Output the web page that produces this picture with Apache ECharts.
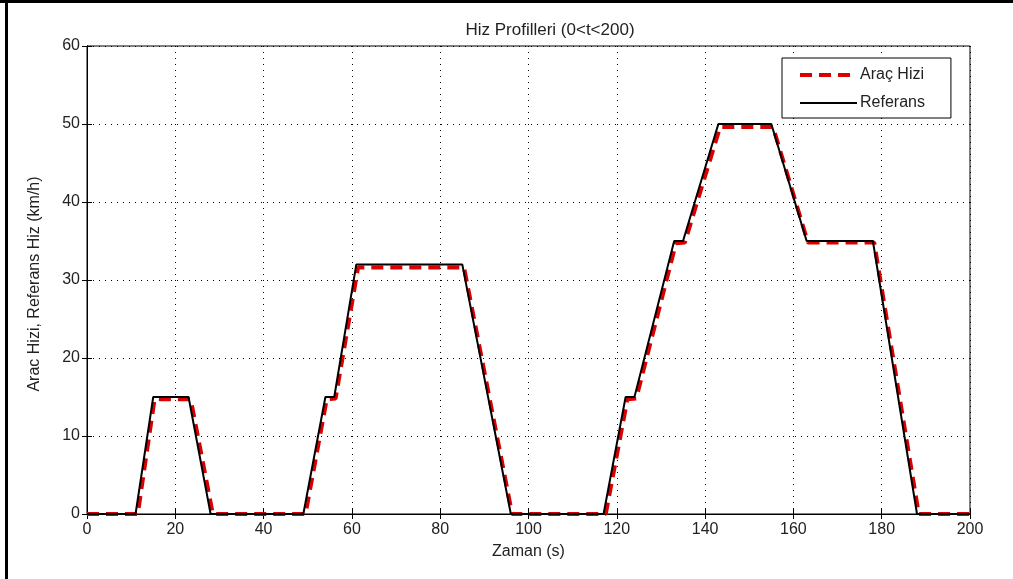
<!DOCTYPE html>
<html>
<head>
<meta charset="utf-8">
<script src="https://cdn.jsdelivr.net/npm/echarts@6/dist/echarts.min.js"></script>
<style>
html,body{margin:0;padding:0;background:#fff;}
#chart{width:1013px;height:579px;}
</style>
</head>
<body>
<div id="chart"></div>
<script>
// Data: [time (s), speed (km/h)]
const aracHizi = [
  [0,0],[11.5,0],[15.3,14.7],[23.5,14.7],[28.5,0],[49.5,0],[54.3,14.7],[56.3,14.8],
  [61.4,31.6],[85.4,31.6],[96.3,0],[117.5,0],[122.4,14.7],[124.4,14.8],[133.4,34.7],
  [135.4,34.8],[143.4,49.6],[155.4,49.6],[163.3,34.8],[178.3,34.8],[188.4,0],[200,0]
];
const referans = [
  [0,0],[11,0],[15,15],[23,15],[28,0],[49,0],[54,15],[56,15],[61,32],[85,32],[96,0],
  [117,0],[122,15],[124,15],[133,35],[135,35],[143,50],[155,50],[163,35],[178,35],
  [188,0],[200,0]
];
const seriesNames = ['Araç Hizi', 'Referans'];
const titleText = 'Hiz Profilleri (0<t<200)';
const xName = 'Zaman (s)';
const yName = 'Arac Hizi, Referans Hiz (km/h)';
const xRange = [0, 200, 20];
const yRange = [0, 60, 10];

const font = 'Liberation Sans, Arial, sans-serif';
const chart = echarts.init(document.getElementById('chart'), null, {renderer: 'canvas'});
const labelStyle = {color: '#222', fontSize: 16, fontFamily: font};
const tickIn = {show: true, inside: true, length: 5, lineStyle: {color: '#000', width: 1}};
const axLine = {show: true, lineStyle: {color: '#000', width: 1}};
const split = {show: true, lineStyle: {color: '#000', width: 1, type: [1, 5]}};
const redStyle = {color: '#d80000', width: 4, type: [12, 7]};
const blackStyle = {color: '#000', width: 2};

chart.setOption({
  backgroundColor: '#fff',
  animation: false,
  title: {
    text: titleText, left: 545, top: 17, textAlign: 'center',
    textStyle: {fontSize: 17, fontWeight: 'normal', color: '#222', fontFamily: font}
  },
  grid: {left: 87, right: 43, top: 46, bottom: 65, show: true, borderColor: '#000', borderWidth: 1, containLabel: false},
  legend: {
    orient: 'vertical', left: 782, top: 58,
    backgroundColor: '#fff', borderColor: '#000', borderWidth: 1,
    padding: [9, 26, 7, 16], itemGap: 12, itemWidth: 57, itemHeight: 14,
    itemStyle: {opacity: 0},
    textStyle: {color: '#222', fontSize: 16, fontFamily: font, padding: [0, 0, 0, -2]},
    data: [
      {name: seriesNames[0], lineStyle: redStyle},
      {name: seriesNames[1], lineStyle: blackStyle}
    ]
  },
  xAxis: [{
    type: 'value', min: xRange[0], max: xRange[1], interval: xRange[2],
    name: xName, nameLocation: 'middle', nameGap: 30,
    nameTextStyle: labelStyle,
    axisLine: axLine, axisTick: tickIn, splitLine: split,
    axisLabel: Object.assign({margin: 8}, labelStyle)
  }, {
    type: 'value', position: 'top', min: xRange[0], max: xRange[1], interval: xRange[2],
    axisLine: axLine, axisTick: tickIn, splitLine: {show: false}, axisLabel: {show: false}
  }],
  yAxis: [{
    type: 'value', min: yRange[0], max: yRange[1], interval: yRange[2],
    name: yName, nameLocation: 'middle', nameGap: 44,
    nameTextStyle: Object.assign({padding: [0, 8, 0, 0]}, labelStyle),
    axisLine: axLine, axisTick: tickIn, splitLine: split,
    axisLabel: Object.assign({margin: 7}, labelStyle)
  }, {
    type: 'value', position: 'right', min: yRange[0], max: yRange[1], interval: yRange[2],
    axisLine: axLine, axisTick: tickIn, splitLine: {show: false}, axisLabel: {show: false}
  }],
  series: [{
    name: seriesNames[0], type: 'line', data: aracHizi, symbol: 'none',
    lineStyle: redStyle, itemStyle: {color: '#d80000'}, z: 2
  }, {
    name: seriesNames[1], type: 'line', data: referans, symbol: 'none',
    lineStyle: blackStyle, itemStyle: {color: '#000'}, z: 3
  }],
  graphic: [
    {type: 'rect', shape: {x: 5, y: 0, width: 3, height: 579}, style: {fill: '#000'}, silent: true},
    {type: 'rect', shape: {x: 0, y: 0, width: 1013, height: 3}, style: {fill: '#000'}, silent: true}
  ]
});
</script>
</body>
</html>
